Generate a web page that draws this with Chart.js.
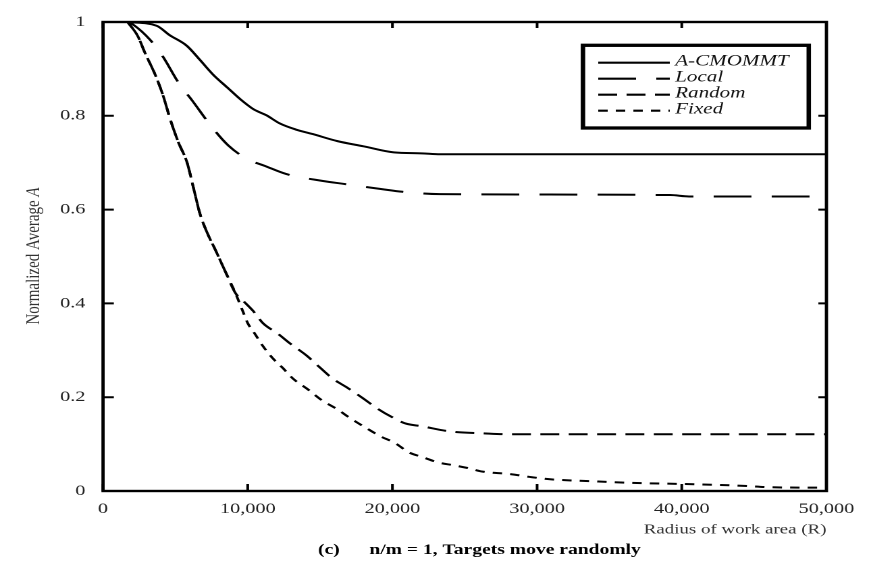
<!DOCTYPE html>
<html>
<head>
<meta charset="utf-8">
<script src="https://cdn.jsdelivr.net/npm/chart.js@4"></script>
<style>
  html, body { margin: 0; padding: 0; background: #fff; overflow: hidden; }
  #wrap { width: 645px; height: 563px; transform: scaleX(1.350388); transform-origin: 0 0; }
</style>
</head>
<body>
<div id="wrap"><canvas id="c"></canvas></div>
<script>
// ---- data ----
const xTicks = [0, 10000, 20000, 30000, 40000, 50000];
const xTickLabels = ['0', '10,000', '20,000', '30,000', '40,000', '50,000'];
const yTicks = [0, 0.2, 0.4, 0.6, 0.8, 1];
const yTickLabels = ['0', '0.2', '0.4', '0.6', '0.8', '1'];

const seriesNames = ['A-CMOMMT', 'Local', 'Random', 'Fixed'];

const acmommtR = [1700, 3700, 4600, 5800, 6700, 7600, 8600, 9500, 10400, 11300, 12200, 13300, 14500, 16200, 18000, 20100, 22000, 23300, 50000];
const acmommtA = [1.000, 0.992, 0.972, 0.949, 0.919, 0.888, 0.860, 0.835, 0.814, 0.801, 0.784, 0.771, 0.761, 0.746, 0.735, 0.722, 0.720, 0.718, 0.718];

const localR = [1700, 2100, 3250, 4100, 5250, 6150, 7550, 8650, 9950, 11200, 12650, 15200, 16600, 19200, 20700, 23300, 39200, 40500, 50000];
const localA = [1.000, 0.994, 0.962, 0.928, 0.869, 0.833, 0.775, 0.737, 0.708, 0.693, 0.676, 0.661, 0.655, 0.644, 0.638, 0.633, 0.631, 0.628, 0.628];

const randomR = [1700, 2400, 2900, 3600, 4150, 4650, 5200, 5800, 6300, 6700, 7250, 7750, 8450, 9150, 9700, 10400, 11050, 12100, 12950, 14100, 15000, 15900, 16900, 18000, 18950, 20000, 20900, 22050, 24000, 26300, 28000, 50000];
const randomA = [1.000, 0.970, 0.934, 0.888, 0.843, 0.792, 0.744, 0.701, 0.640, 0.591, 0.547, 0.515, 0.468, 0.422, 0.405, 0.383, 0.358, 0.335, 0.314, 0.288, 0.263, 0.239, 0.220, 0.197, 0.176, 0.157, 0.144, 0.138, 0.127, 0.123, 0.121, 0.121];

const fixedR = [1700, 2400, 2900, 3600, 4150, 4650, 5200, 5800, 6300, 6700, 7250, 7750, 8450, 9150, 9600, 10000, 10500, 11050, 11700, 12400, 13150, 14100, 15150, 16200, 17100, 18100, 19150, 20200, 21100, 22100, 23150, 24200, 25200, 26100, 28150, 29500, 30900, 33700, 36900, 40100, 42500, 44300, 46100, 50000];
const fixedA = [1.000, 0.970, 0.934, 0.888, 0.843, 0.792, 0.744, 0.701, 0.640, 0.591, 0.547, 0.515, 0.468, 0.422, 0.388, 0.358, 0.335, 0.309, 0.284, 0.263, 0.239, 0.218, 0.193, 0.174, 0.155, 0.136, 0.117, 0.102, 0.083, 0.072, 0.061, 0.055, 0.049, 0.042, 0.036, 0.030, 0.025, 0.021, 0.017, 0.015, 0.013, 0.011, 0.008, 0.007];

const xTitle = 'Radius of work area (R)';
const yTitleMain = 'Normalized Average ';
const yTitleItalic = 'A';
const captionTag = '(c)';
const captionText = 'n/m = 1, Targets move randomly';

// ---- helpers ----
const pts = (R, A) => R.map((r, i) => ({ x: r, y: A[i] }));
const SERIF = '"Liberation Serif", "Times New Roman", serif';

const framePlugin = {
  id: 'frame',
  afterDatasetsDraw(chart) {
    const { ctx, chartArea: { left, right, top, bottom }, scales: { x, y } } = chart;
    ctx.save();
    ctx.strokeStyle = '#000';
    ctx.lineWidth = 2;
    ctx.beginPath();
    x.ticks.forEach(t => {
      const px = x.getPixelForValue(t.value);
      ctx.moveTo(px, bottom); ctx.lineTo(px, bottom - 7);
      ctx.moveTo(px, top); ctx.lineTo(px, top + 6);
    });
    y.ticks.forEach(t => {
      const py = y.getPixelForValue(t.value);
      ctx.moveTo(left, py); ctx.lineTo(left + 8, py);
      ctx.moveTo(right, py); ctx.lineTo(right - 6, py);
    });
    ctx.stroke();
    ctx.lineWidth = 2.4;
    ctx.strokeRect(left, top, right - left, bottom - top);
    ctx.restore();
  }
};

const decorPlugin = {
  id: 'decor',
  afterDraw(chart) {
    const ctx = chart.ctx;
    ctx.save();
    // legend box
    ctx.strokeStyle = '#000';
    ctx.lineWidth = 3.3;
    ctx.strokeRect(431.7, 45.3, 167.2, 82.7);
    chart.data.datasets.forEach((ds, i) => {
      const yy = 62.7 + i * 16;
      ctx.setLineDash(ds.borderDash || []);
      ctx.lineWidth = 2.2;
      ctx.beginPath();
      ctx.moveTo(443, yy); ctx.lineTo(496, yy);
      ctx.stroke();
      ctx.setLineDash([]);
      ctx.fillStyle = '#111';
      ctx.font = 'italic 15.6px ' + SERIF;
      ctx.textAlign = 'left';
      ctx.textBaseline = 'alphabetic';
      ctx.fillText(ds.label, 500, yy + 3);
    });
    // y axis title (rotated)
    ctx.save();
    ctx.translate(25, 256);
    ctx.rotate(-Math.PI / 2);
    ctx.fillStyle = '#333';
    ctx.textBaseline = 'middle';
    ctx.textAlign = 'left';
    ctx.font = '15px ' + SERIF;
    const w1 = ctx.measureText(yTitleMain).width;
    ctx.font = 'italic 15px ' + SERIF;
    const w2 = ctx.measureText(yTitleItalic).width;
    const x0 = -(w1 + w2) / 2;
    ctx.font = '15px ' + SERIF;
    ctx.fillText(yTitleMain, x0, 0);
    ctx.font = 'italic 15px ' + SERIF;
    ctx.fillText(yTitleItalic, x0 + w1, 0);
    ctx.restore();
    // caption
    ctx.fillStyle = '#000';
    ctx.font = 'bold 14.5px ' + SERIF;
    ctx.textAlign = 'left';
    ctx.textBaseline = 'alphabetic';
    ctx.fillText(captionTag, 235.5, 554);
    ctx.fillText(captionText, 273.5, 554);
    ctx.restore();
  }
};

const dashes = [[], [28, 15], [14, 7], [7, 6]];
const seriesR = [acmommtR, localR, randomR, fixedR];
const seriesA = [acmommtA, localA, randomA, fixedA];

new Chart(document.getElementById('c'), {
  type: 'line',
  data: {
    datasets: seriesNames.map((name, i) => ({
      label: name,
      data: pts(seriesR[i], seriesA[i]),
      borderColor: '#000',
      borderWidth: 2,
      borderDash: dashes[i],
      pointRadius: 0,
      cubicInterpolationMode: 'monotone',
      fill: false
    }))
  },
  options: {
    responsive: true,
    maintainAspectRatio: false,
    devicePixelRatio: 2,
    animation: false,
    layout: { padding: { top: 19, right: 33, left: 0, bottom: 0 } },
    plugins: { legend: { display: false }, tooltip: { enabled: false }, title: { display: false } },
    scales: {
      x: {
        type: 'linear', min: 0, max: 50000,
        afterBuildTicks: s => { s.ticks = xTicks.map(v => ({ value: v })); },
        afterFit: s => { s.height = 72; },
        grid: { display: false, drawTicks: false },
        border: { display: false },
        ticks: {
          padding: 9, maxRotation: 0, autoSkip: false,
          color: '#222', font: { family: SERIF, size: 15 },
          callback: v => xTickLabels[xTicks.indexOf(v)]
        },
        title: {
          display: true, text: xTitle, align: 'end',
          color: '#333', font: { family: SERIF, size: 14 },
          padding: { top: 0, bottom: 24.6 }
        }
      },
      y: {
        type: 'linear', min: 0, max: 1,
        afterBuildTicks: s => { s.ticks = yTicks.map(v => ({ value: v })); },
        afterFit: s => { s.width = 76.3; },
        grid: { display: false, drawTicks: false },
        border: { display: false },
        ticks: {
          padding: 13, autoSkip: false,
          color: '#222', font: { family: SERIF, size: 15 },
          callback: v => yTickLabels[yTicks.indexOf(v)]
        }
      }
    }
  },
  plugins: [framePlugin, decorPlugin]
});
</script>
</body>
</html>
